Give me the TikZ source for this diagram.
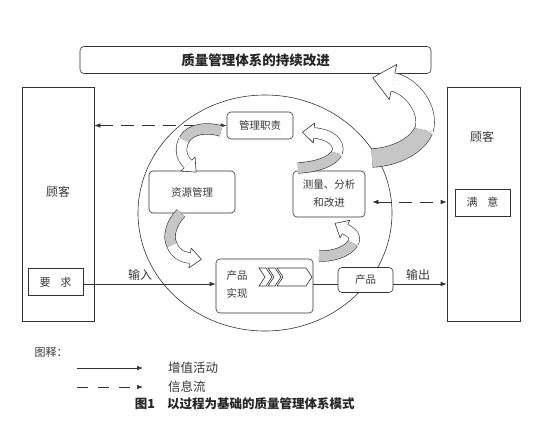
\documentclass[tikz,border=0pt]{standalone}
\usepackage{fontspec}
\setmainfont{Noto Sans CJK SC}
\usetikzlibrary{arrows.meta,calc}

\definecolor{linec}{HTML}{333333}
\definecolor{txt}{HTML}{383838}
\definecolor{bandgray}{HTML}{C6C6C6}

% curved ribbon arrow: #1 tail, #2/#3 controls, #4 twist point,
% #5/#6 controls, #7 head base, #8 ribbon width (number, in pt)
\newcommand{\qribbon}[8]{%
  \draw[ribbon, double=bandgray, double distance=#8pt] (#1) .. controls (#2) and (#3) .. (#4);
  \draw[ribbon, double=white, double distance=#8pt] (#4) .. controls (#5) and (#6) .. (#7);
  \filldraw[ribbon, fill=white]
    ($(#7)!0.5*#8pt+0.3pt!90:(#6)$) -- ($(#7)!1.0*#8pt!90:(#6)$) --
    ($(#7)!-1.15*#8pt!(#6)$) --
    ($(#7)!1.0*#8pt!-90:(#6)$) -- ($(#7)!0.5*#8pt+0.3pt!-90:(#6)$);
}

\tikzset{
  ln/.style={draw=linec, line width=0.6pt},
  roundbox/.style={ln, rounded corners=4pt, fill=white, inner sep=0pt, text=txt,
    font=\fontsize{10.5}{18}\selectfont, align=center},
  squarebox/.style={ln, fill=white, inner sep=0pt, text=txt,
    font=\fontsize{11}{14}\selectfont},
  lbl/.style={text=txt, inner sep=0pt, font=\fontsize{12}{14}\selectfont},
  flow/.style={ln, -{Latex[length=6pt,width=4.5pt]}},
  info/.style={ln, dash pattern=on 13pt off 8pt,
    {Latex[length=6pt,width=4.5pt]}-{Latex[length=6pt,width=4.5pt]}},
  ribbon/.style={draw=linec, line width=0.6pt, line cap=butt, line join=round},
  chev/.style={ln, fill=white, line join=miter},
}

\begin{document}
\begin{tikzpicture}[x=1pt, y=-1pt]
\useasboundingbox (0,0) rectangle (543,440);
\fill[white] (0,0) rectangle (543,440);

% continual improvement banner
\node[roundbox, minimum width=351pt, minimum height=27pt,
      font=\bfseries\fontsize{13.5}{16}\selectfont, text=black!85] (improve) at (255.5,60)
      {质量管理体系的持续改进};

% customers
\node[squarebox, minimum width=72pt, minimum height=234pt] (custL) at (58,204) {};
\node[lbl] (custLtxt) at (58,192) {顾客};
\node[squarebox, minimum width=55pt, minimum height=27pt] (req) at (55.5,282)
      {要\hspace{0.9em}求};
\node[squarebox, minimum width=73pt, minimum height=234pt] (custR) at (483.5,204) {};
\node[lbl] (custRtxt) at (482,137) {顾客};
\node[squarebox, minimum width=55pt, minimum height=27pt] (sat) at (482.5,202.5)
      {满\hspace{0.9em}意};

% process cycle
\draw[ln] (265,213) ellipse [x radius=127pt, y radius=118pt];

\node[roundbox, minimum width=66pt, minimum height=27pt] (mgmt) at (260,125.5) {管理职责};
\node[roundbox, minimum width=86pt, minimum height=42pt] (res) at (192,192) {资源管理};
\node[roundbox, minimum width=72pt, minimum height=46pt] (meas) at (329,194)
      {测量、分析\\和改进};
\node[roundbox, minimum width=97pt, minimum height=54pt] (realize) at (264.5,286) {};
\node[lbl, font=\fontsize{10.5}{18}\selectfont, align=left] (realtxt) at (237,285)
      {产品\\实现};
\node[roundbox, minimum width=55pt, minimum height=25pt] (out) at (365.5,280) {产品};

% chevrons inside the realization box
\foreach \cx/\cw in {259/7, 268/7, 277/29}{
  \draw[chev] (\cx,268) -- (\cx+\cw,268) -- (\cx+\cw+6,277) -- (\cx+\cw,286)
              -- (\cx,286) -- (\cx+6,277) -- cycle;
}

% flow lines
\coordinate (flowy) at (0,284);
\coordinate (infoy) at (0,202);
\draw[flow] (req.east |- flowy) -- (realize.west |- flowy);
\draw[ln] (realize.east |- flowy) -- (out.west |- flowy);
\draw[flow] (out.east |- flowy) -- (custR.west |- flowy);
\node[lbl] (inlbl) at (140,275) {输入};
\node[lbl] (outlbl) at (418,275) {输出};

% information flows
\draw[info] (custL.east |- mgmt.west) -- (mgmt.west);
\draw[info] ($(meas.east |- infoy)+(7,0)$) -- (custR.west |- infoy);

% cycle arrows
\qribbon{221,131}{208,127}{190,128}{184,140}{179,150}{182,158}{188,164}{10}
\qribbon{181,213}{172,222}{167,236}{172,245}{175,253}{181,257}{190,258}{10}
\qribbon{319,256}{333,257}{349,251}{353,243}{357,236}{352,233}{345,229}{10}
\qribbon{298,168}{316,167}{332,162}{337,153}{341,143}{330,134}{314,133}{10}
\qribbon{372,158}{395,157}{417,146}{424,130}{430,110}{412,86}{393,82}{18}

% legend
\node[lbl, font=\fontsize{11}{14}\selectfont] (legtitle) at (51,352) {图释：};
\coordinate (la1) at (77,368);
\coordinate (lb1) at (143,368);
\coordinate (la2) at (77,387);
\coordinate (lb2) at (143,387);
\draw[flow] (la1) -- (lb1);
\draw[flow, dash pattern=on 11pt off 10pt] (la2) -- (lb2);
\node[lbl, anchor=west, font=\fontsize{12.5}{14}\selectfont] (leg1) at (168,368) {增值活动};
\node[lbl, anchor=west, font=\fontsize{12.5}{14}\selectfont] (leg2) at (168,387) {信息流};

% caption
\node[lbl, font=\bfseries\fontsize{12.5}{14}\selectfont, text=black!85] (capnum) at (145,404) {图1};
\node[lbl, anchor=west, font=\bfseries\fontsize{12.5}{14}\selectfont, text=black!85] (captext)
      at (167,404) {以过程为基础的质量管理体系模式};
\end{tikzpicture}
\end{document}
